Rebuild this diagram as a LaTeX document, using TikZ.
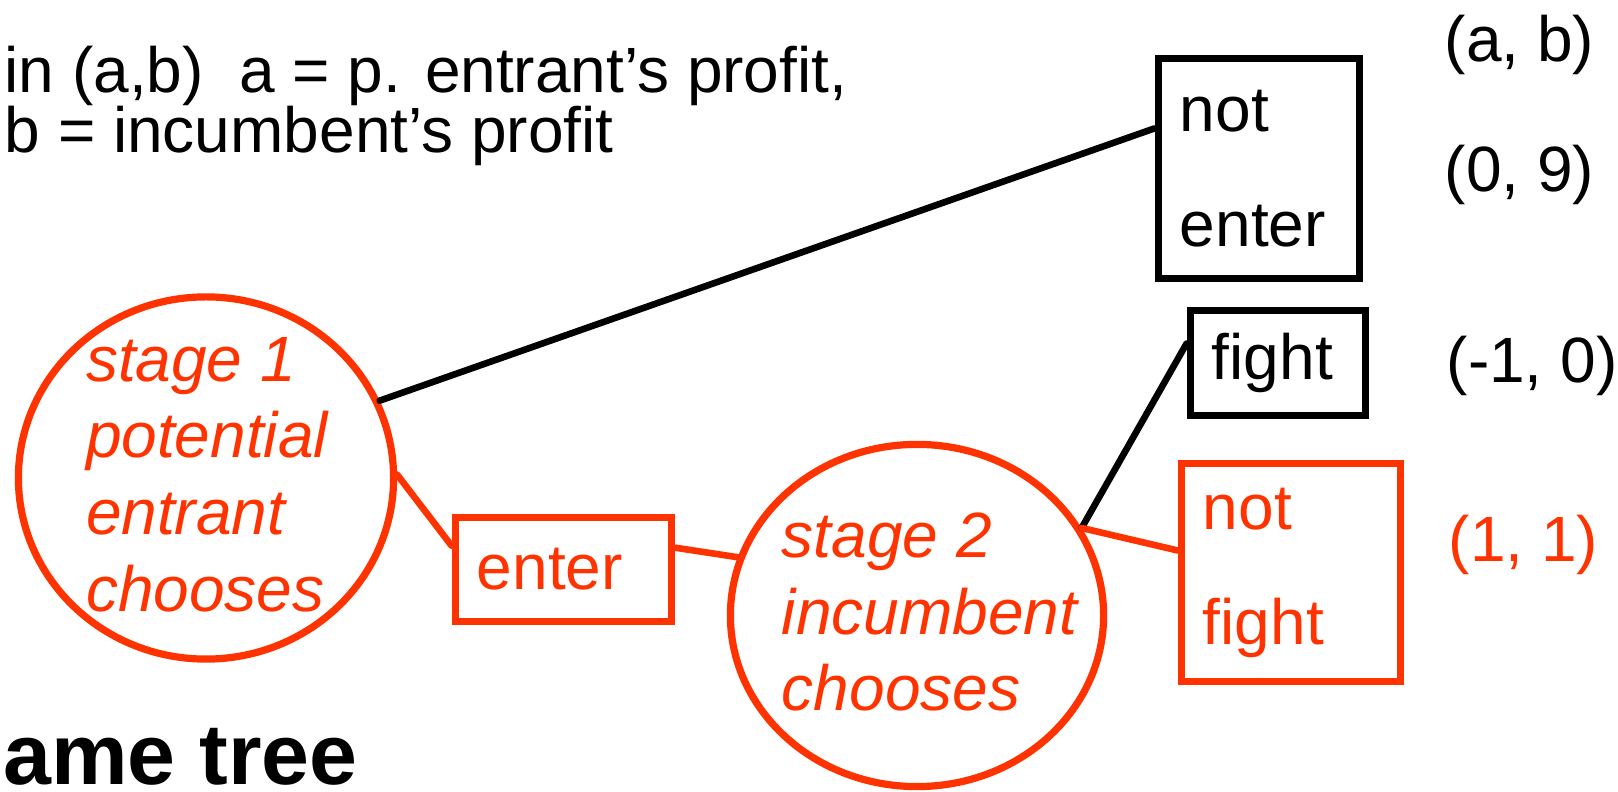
\documentclass[tikz,border=0pt]{standalone}
\usepackage{fontspec}
\setmainfont{Liberation Sans}
\usetikzlibrary{shapes.geometric}
\definecolor{orred}{RGB}{255,51,0}

\begin{document}
\begin{tikzpicture}[x=0.01cm, y=-0.01cm, line cap=round]
\tikzset{every node/.style={inner sep=0pt, font=\fontsize{18.2}{21.8}\selectfont},
  stage/.style={ellipse, draw=orred, line width=0.072cm},
  stagetext/.style={text=orred, align=left, font=\fontsize{18.2}{21.8}\selectfont\itshape},
  move/.style={draw, line width=0.078cm, line join=miter, inner xsep=0.215cm, align=left, font=\fontsize{18.2}{32.7}\selectfont},
  branch/.style={line width=0.066cm}}
\useasboundingbox (0,0) rectangle (1618,792);
\clip (0,0) rectangle (1618,792);
% notes and title
\node[anchor=base west] (note1) at (4,93) {in (a,b)\ \ a = p. entrant’s profit,};
\node[anchor=base west] (note2) at (4,153) {b = incumbent’s profit};
\node[anchor=base west, font=\fontsize{24.5}{24.5}\selectfont\bfseries] (title) at (-50,785) {game tree};
% stages
\node[stage, minimum width=3.75cm, minimum height=3.62cm] (e1) at (206,478) {};
\node[stagetext] (e1txt) at (207,474.5) {stage 1\\potential\\entrant\\chooses};
\node[stage, minimum width=3.73cm, minimum height=3.42cm] (e2) at (917,615.5) {};
\node[stagetext] (e2txt) at (929.5,612) {stage 2\\incumbent\\chooses};
% moves
\node[move, draw=orred, text=orred, text width=1.73cm, minimum height=1.04cm] (enter) at (563.5,569.5) {enter};
\node[move, text width=1.58cm, minimum height=2.2cm] (notenter) at (1259,168.5) {not\\enter};
\node[move, text width=1.32cm, minimum height=1.05cm] (fight) at (1278,363) {fight};
\node[move, draw=orred, text=orred, text width=1.76cm, minimum height=2.18cm] (notfight) at (1291,572.5) {not\\fight};
% branches
\draw[branch] (e1.24) -- (notenter.159);
\draw[branch, orred] (e1.1) -- (enter.168);
\draw[branch, orred] (enter.11) -- (e2.162);
\draw[branch] (e2.28) -- (fight.168);
\draw[branch, orred] (e2.28) -- (notfight.169);
% payoffs
\node[anchor=base west] (payhead) at (1444,62) {(a, b)};
\node[anchor=base west] (payne) at (1444,192) {(0, 9)};
\node[anchor=base west] (payf) at (1446,383) {(-1, 0)};
\node[anchor=base west, text=orred] (paynf) at (1448,562) {(1, 1)};
\end{tikzpicture}
\end{document}
